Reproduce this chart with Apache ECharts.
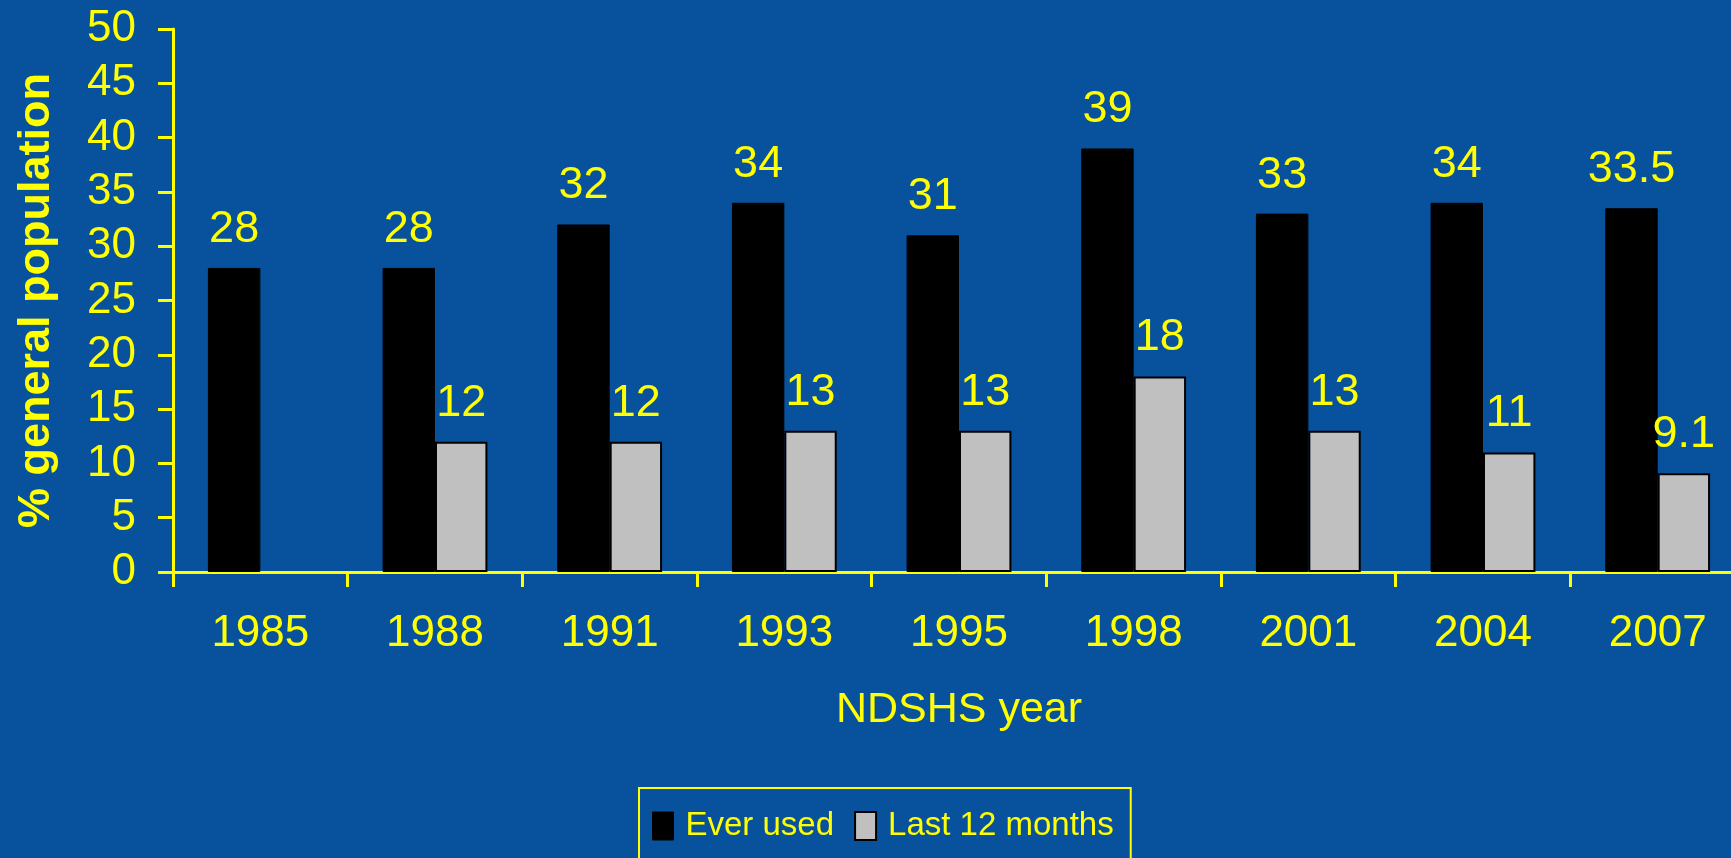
<!DOCTYPE html>
<html>
<head>
<meta charset="utf-8">
<script src="https://cdn.jsdelivr.net/npm/echarts@6/dist/echarts.min.js"></script>
<style>
  html, body { margin: 0; padding: 0; background: #08519c; }
  #chart { width: 1731px; height: 858px; }
</style>
</head>
<body>
<div id="chart"></div>
<script>
// NDSHS survey years
const years = ['1985', '1988', '1991', '1993', '1995', '1998', '2001', '2004', '2007'];
// % of general population
const everUsed = [28, 28, 32, 34, 31, 39, 33, 34, 33.5];
const last12Months = [null, 12, 12, 13, 13, 18, 13, 11, 9.1];

const yellow = '#ffff00';
const font = "'Liberation Sans', Arial, sans-serif";

const chart = echarts.init(document.getElementById('chart'));
chart.setOption({
  backgroundColor: '#08519c',
  animation: false,
  textStyle: { fontFamily: font, color: yellow },
  // plot runs past the right edge of the picture
  grid: { left: 173, top: 29, width: 1572, height: 543, outerBoundsMode: 'none', containLabel: false },
  legend: {
    left: 639,
    top: 788,
    padding: [18, 17, 40, 13],
    borderColor: yellow,
    borderWidth: 2,
    itemWidth: 21,
    itemHeight: 28,
    itemGap: 20,
    icon: 'rect',
    textStyle: {
      color: yellow,
      fontFamily: font,
      fontSize: 33,
      lineHeight: 40,
      padding: [0, 0, 0, 7]
    },
    data: [
      { name: 'Ever used', itemStyle: { color: '#000', borderColor: '#000', borderWidth: 1 } },
      { name: 'Last 12 months', itemStyle: { color: '#c0c0c0', borderColor: '#000', borderWidth: 2 } }
    ]
  },
  xAxis: {
    type: 'category',
    data: years,
    name: 'NDSHS year',
    nameLocation: 'middle',
    nameGap: 117,
    nameTextStyle: { color: yellow, fontSize: 43, fontFamily: font },
    axisLine: { lineStyle: { color: yellow, width: 3 } },
    axisTick: { show: true, length: 15, lineStyle: { color: yellow, width: 3 } },
    axisLabel: { color: yellow, fontSize: 44, margin: 40, fontFamily: font, interval: 0, overflow: 'none' }
  },
  yAxis: {
    type: 'value',
    min: 0,
    max: 50,
    interval: 5,
    name: '% general population',
    nameLocation: 'middle',
    nameGap: 114,
    nameTextStyle: { color: yellow, fontSize: 45, fontWeight: 'bold', fontFamily: font },
    axisLine: { show: true, lineStyle: { color: yellow, width: 3 } },
    axisTick: { show: true, length: 15, lineStyle: { color: yellow, width: 3 } },
    axisLabel: { color: yellow, fontSize: 44, margin: 37, fontFamily: font },
    splitLine: { show: false }
  },
  series: [
    {
      name: 'Ever used',
      type: 'bar',
      data: everUsed,
      barGap: '0%',
      barCategoryGap: '40%',
      itemStyle: { color: '#000', borderColor: '#000', borderWidth: 1 },
      label: {
        show: true,
        position: 'top',
        distance: 16,
        color: yellow,
        fontSize: 45,
        fontFamily: font
      }
    },
    {
      name: 'Last 12 months',
      type: 'bar',
      data: last12Months,
      itemStyle: { color: '#c0c0c0', borderColor: '#000', borderWidth: 2 },
      label: {
        show: true,
        position: 'top',
        distance: 16,
        color: yellow,
        fontSize: 45,
        fontFamily: font
      }
    }
  ]
});
</script>
</body>
</html>
